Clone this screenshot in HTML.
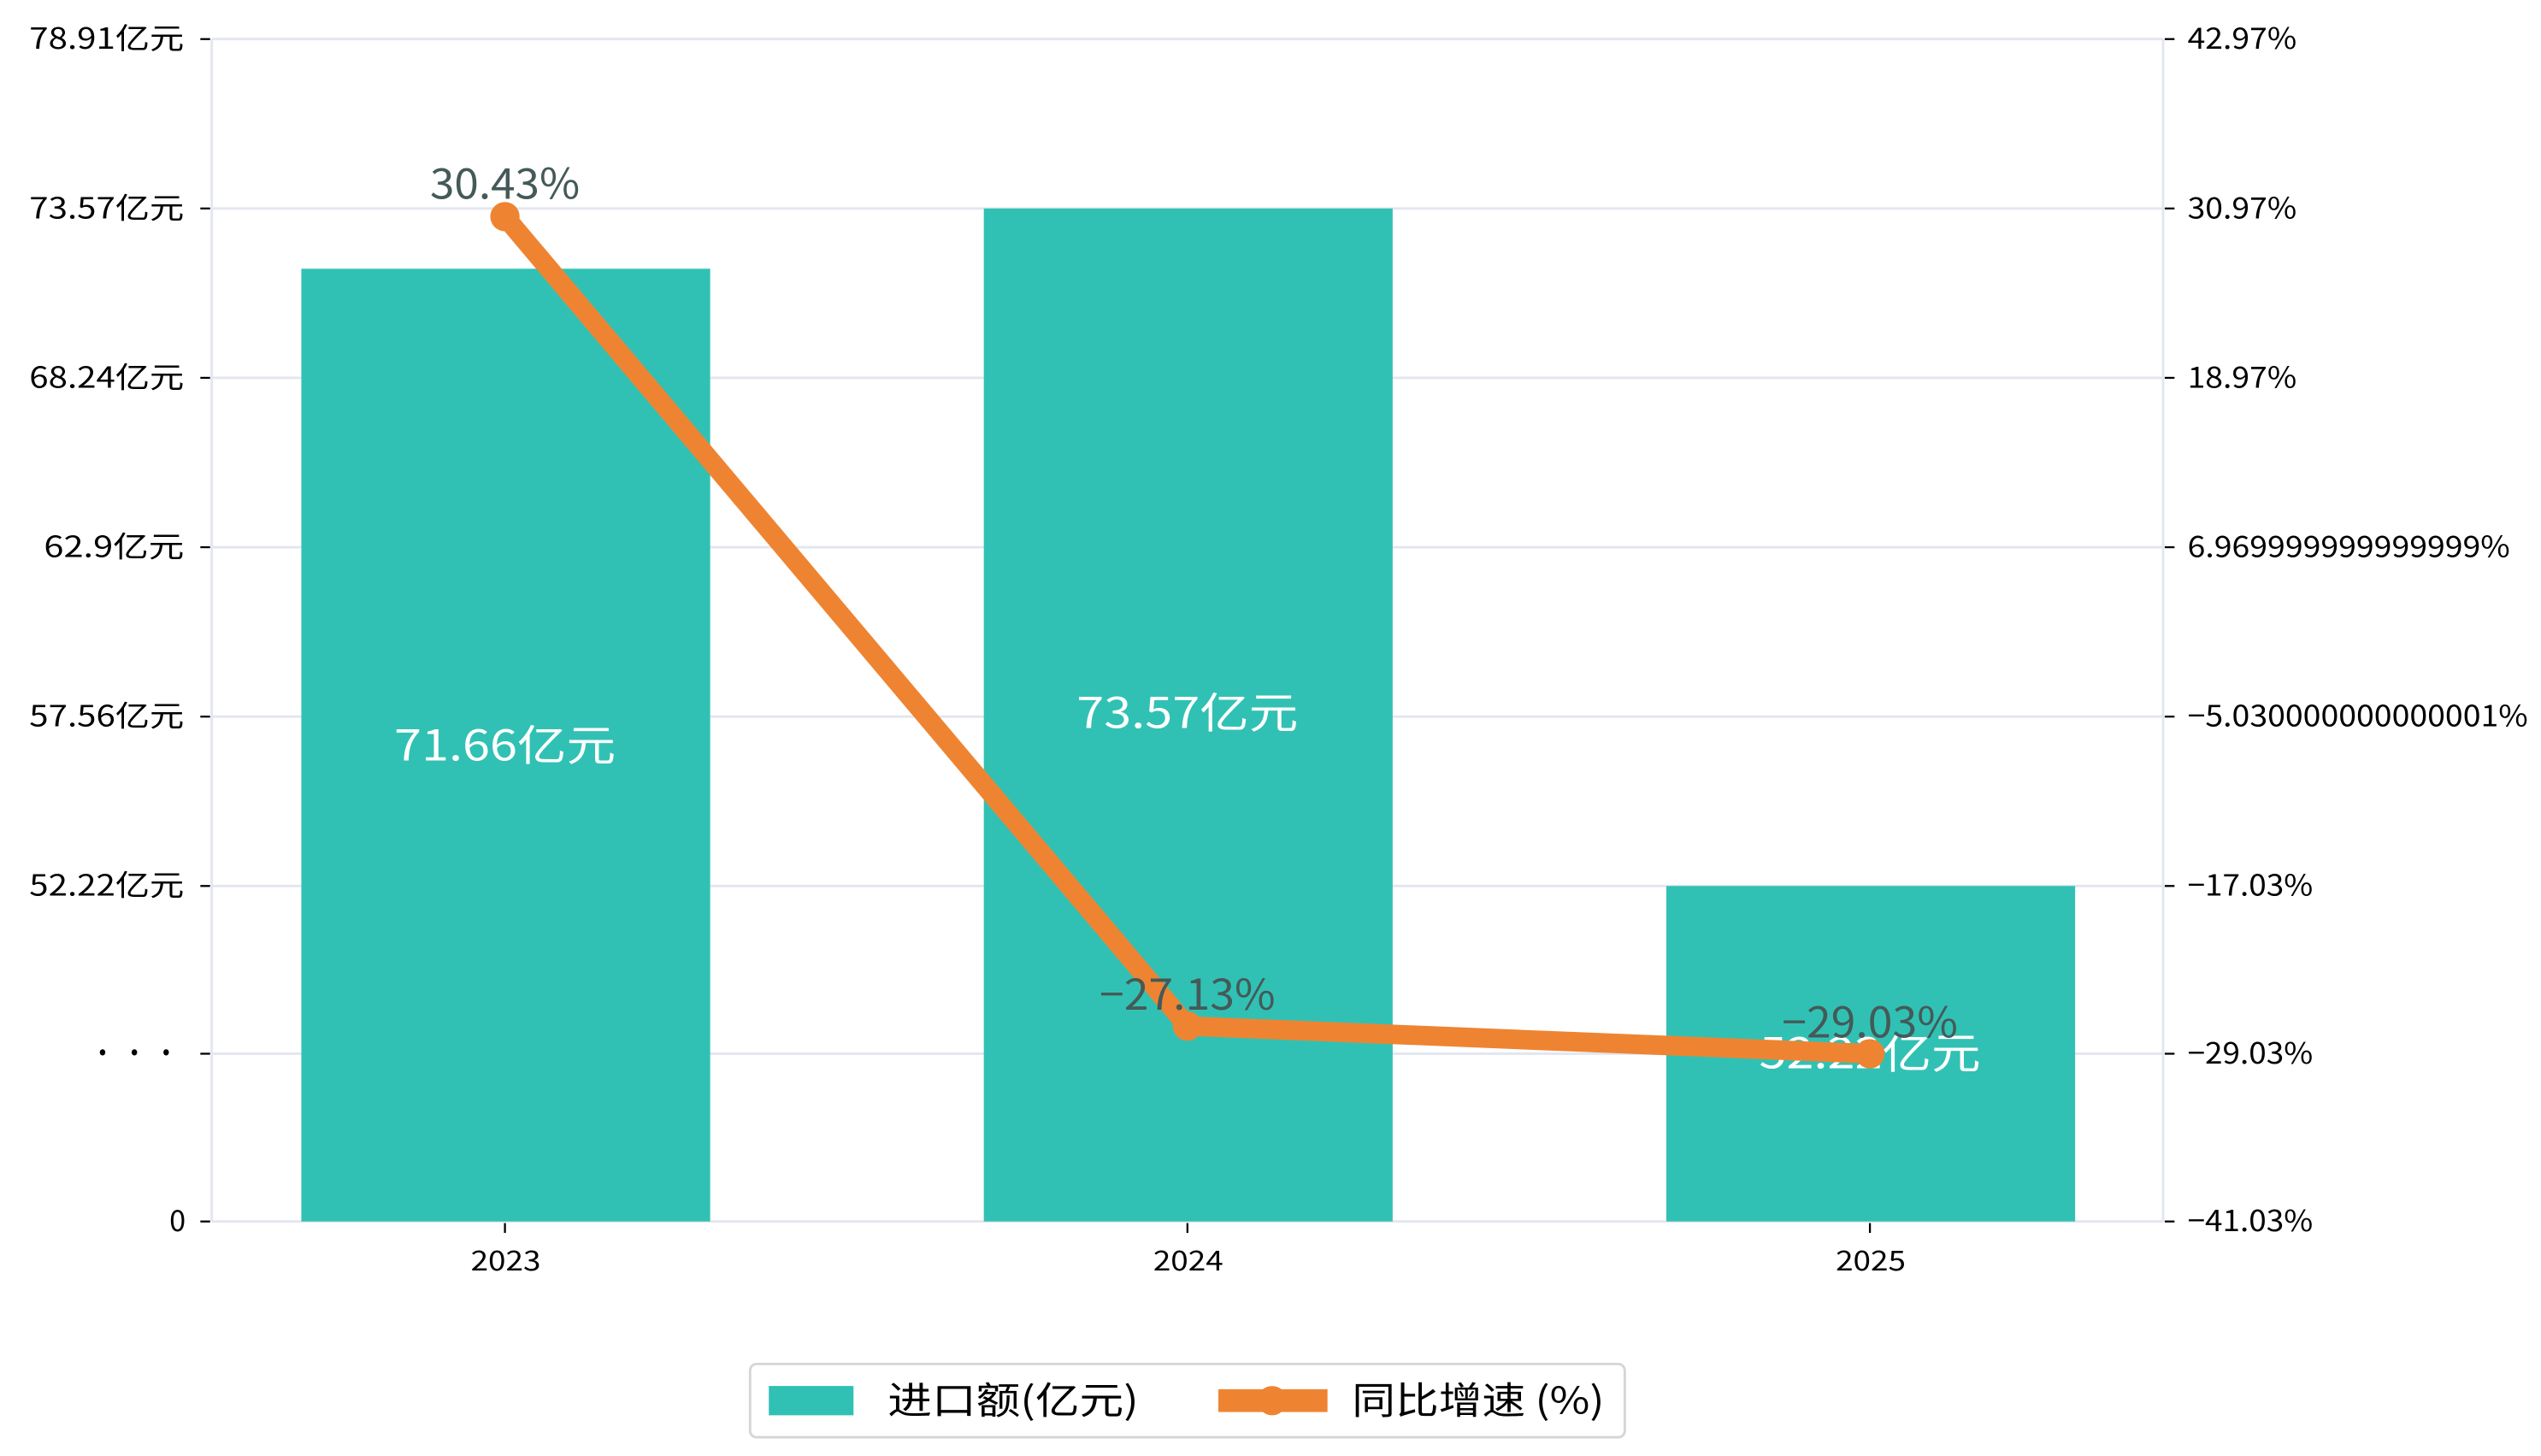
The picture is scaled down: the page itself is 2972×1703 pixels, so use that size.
<!DOCTYPE html>
<html><head><meta charset="utf-8"><style>html,body{margin:0;padding:0;background:#fff}svg{display:block}</style></head><body>
<svg width="2972" height="1703" viewBox="0 0 1560 894" preserveAspectRatio="none" xmlns="http://www.w3.org/2000/svg" font-family="'WenQuanYi Zen Hei','Noto Sans CJK SC',sans-serif">
<rect width="1560" height="894" fill="#fff"/>
<g stroke="#e3e6f0" stroke-width="1.5">
<line x1="130" x2="1328" y1="24" y2="24"/><line x1="130" x2="1328" y1="128" y2="128"/><line x1="130" x2="1328" y1="232" y2="232"/><line x1="130" x2="1328" y1="336" y2="336"/><line x1="130" x2="1328" y1="440" y2="440"/><line x1="130" x2="1328" y1="544" y2="544"/><line x1="130" x2="1328" y1="647" y2="647"/><line x1="130" x2="1328" y1="750" y2="750"/>
<line x1="130" x2="130" y1="24" y2="750"/><line x1="1328" x2="1328" y1="24" y2="750"/>
</g>
<g stroke="#000" stroke-width="1.2">
<line x1="123" x2="129" y1="24" y2="24"/><line x1="123" x2="129" y1="128" y2="128"/><line x1="123" x2="129" y1="232" y2="232"/><line x1="123" x2="129" y1="336" y2="336"/><line x1="123" x2="129" y1="440" y2="440"/><line x1="123" x2="129" y1="544" y2="544"/><line x1="123" x2="129" y1="647" y2="647"/><line x1="123" x2="129" y1="750" y2="750"/>
<line x1="1329" x2="1335" y1="24" y2="24"/><line x1="1329" x2="1335" y1="128" y2="128"/><line x1="1329" x2="1335" y1="232" y2="232"/><line x1="1329" x2="1335" y1="336" y2="336"/><line x1="1329" x2="1335" y1="440" y2="440"/><line x1="1329" x2="1335" y1="544" y2="544"/><line x1="1329" x2="1335" y1="647" y2="647"/><line x1="1329" x2="1335" y1="750" y2="750"/>
<line x1="310" x2="310" y1="751" y2="757"/><line x1="729" x2="729" y1="751" y2="757"/><line x1="1148" x2="1148" y1="751" y2="757"/>
</g>
<g font-size="18" fill="#000" lengthAdjust="spacingAndGlyphs">
<text x="18" y="30" textLength="95" lengthAdjust="spacingAndGlyphs">78.91亿元</text>
<text x="18" y="134" textLength="95" lengthAdjust="spacingAndGlyphs">73.57亿元</text>
<text x="18" y="238" textLength="95" lengthAdjust="spacingAndGlyphs">68.24亿元</text>
<text x="27" y="342" textLength="86" lengthAdjust="spacingAndGlyphs">62.9亿元</text>
<text x="18" y="446" textLength="95" lengthAdjust="spacingAndGlyphs">57.56亿元</text>
<text x="18" y="550" textLength="95" lengthAdjust="spacingAndGlyphs">52.22亿元</text>
<text x="55" y="653" textLength="55" lengthAdjust="spacingAndGlyphs">· · ·</text>
<text x="104" y="756">0</text>
</g>
<g font-size="18" fill="#000">
<text x="1343" y="30" textLength="67" lengthAdjust="spacingAndGlyphs">42.97%</text>
<text x="1343" y="134" textLength="67" lengthAdjust="spacingAndGlyphs">30.97%</text>
<text x="1343" y="238" textLength="67" lengthAdjust="spacingAndGlyphs">18.97%</text>
<text x="1343" y="342" textLength="198" lengthAdjust="spacingAndGlyphs">6.969999999999999%</text>
<text x="1343" y="446" textLength="209" lengthAdjust="spacingAndGlyphs">−5.030000000000001%</text>
<text x="1343" y="550" textLength="77" lengthAdjust="spacingAndGlyphs">−17.03%</text>
<text x="1343" y="653" textLength="77" lengthAdjust="spacingAndGlyphs">−29.03%</text>
<text x="1343" y="756" textLength="77" lengthAdjust="spacingAndGlyphs">−41.03%</text>
</g>
<g font-size="17" fill="#000">
<text x="289" y="780" textLength="43" lengthAdjust="spacingAndGlyphs">2023</text>
<text x="708" y="780" textLength="43" lengthAdjust="spacingAndGlyphs">2024</text>
<text x="1127" y="780" textLength="43" lengthAdjust="spacingAndGlyphs">2025</text>
</g>
<g fill="#31c1b4">
<rect x="185" y="165" width="251" height="585"/><rect x="604" y="128" width="251" height="622"/><rect x="1023" y="544" width="251" height="206"/>
</g>
<g font-size="26" fill="#fff">
<text x="242" y="467" textLength="136" lengthAdjust="spacingAndGlyphs">71.66亿元</text>
<text x="661" y="447" textLength="136" lengthAdjust="spacingAndGlyphs">73.57亿元</text>
<text x="1080" y="656" textLength="136" lengthAdjust="spacingAndGlyphs">52.22亿元</text>
</g>
<polyline points="310,133 729,630 1148,647" fill="none" stroke="#ee8432" stroke-width="12" stroke-linejoin="round"/>
<g fill="#ee8432"><circle cx="310" cy="133" r="9"/><circle cx="729" cy="630" r="9"/><circle cx="1148" cy="647" r="9"/></g>
<g font-size="26" fill="#445a58">
<text x="264" y="122" textLength="92" lengthAdjust="spacingAndGlyphs">30.43%</text>
<text x="675" y="620" textLength="108" lengthAdjust="spacingAndGlyphs">−27.13%</text>
<text x="1094" y="637" textLength="108" lengthAdjust="spacingAndGlyphs">−29.03%</text>
</g>
<rect x="460.5" y="837.5" width="537" height="45" rx="4" fill="#fff" stroke="#d5d5d5" stroke-width="1.5"/>
<rect x="472" y="851" width="52" height="18" fill="#31c1b4"/>
<text x="545" y="868" font-size="23" fill="#000" textLength="154" lengthAdjust="spacingAndGlyphs">进口额(亿元)</text>
<rect x="748" y="853" width="67" height="14" fill="#ee8432"/>
<circle cx="781" cy="860" r="9" fill="#ee8432"/>
<text x="830" y="868" font-size="23" fill="#000" textLength="155" lengthAdjust="spacingAndGlyphs">同比增速 (%)</text>
</svg>
</body></html>
